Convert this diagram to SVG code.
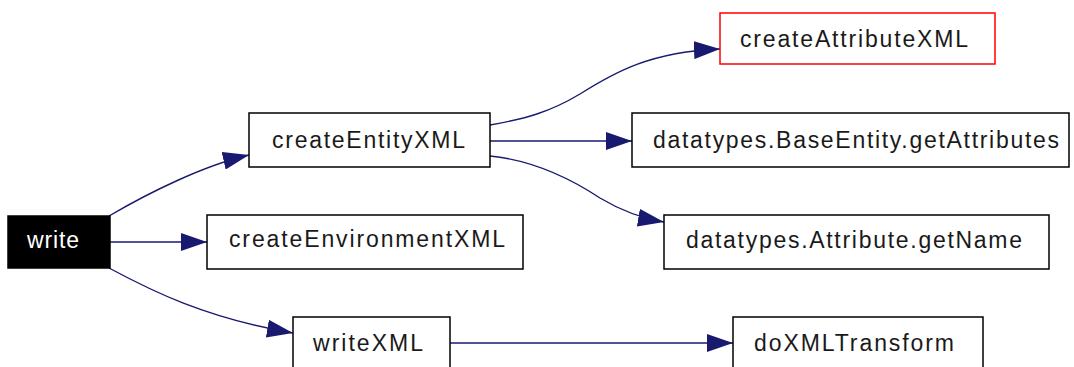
<svg xmlns="http://www.w3.org/2000/svg" width="1074" height="367" viewBox="0 0 1074 367">
  <style>
    .box { fill: #ffffff; stroke: #000000; stroke-width: 1.5; }
    .root { fill: #000000; stroke: #000000; stroke-width: 1.5; }
    .hl { fill: #ffffff; stroke: #ff0000; stroke-width: 1.5; }
    .lbl { font-family: "Liberation Sans", Arial, Helvetica, sans-serif; font-size: 23px; fill: #1a1a1a; }
    .lbl-w { font-family: "Liberation Sans", Arial, Helvetica, sans-serif; font-size: 23px; fill: #ffffff; }
    .edge { fill: none; stroke: #191970; stroke-width: 1.4; }
  </style>
  <defs>
    <marker id="arrow" viewBox="0 0 26 18" refX="26" refY="9" markerWidth="26" markerHeight="18" markerUnits="userSpaceOnUse" orient="auto">
      <path d="M0,0 L26,9 L0,18 z" fill="#191970"/>
    </marker>
  </defs>

  <g id="edges">
    <path class="edge" marker-end="url(#arrow)" d="M109,216 C150,192 205,165 249,155"/>
    <path class="edge" marker-end="url(#arrow)" d="M110,242 L207,242"/>
    <path class="edge" marker-end="url(#arrow)" d="M109,268 C150,290 205,318 293,333"/>
    <path class="edge" marker-end="url(#arrow)" d="M490,125 C525,119 550,112 580,94 C615,72 650,52 720,49"/>
    <path class="edge" marker-end="url(#arrow)" d="M490,141 L632,141"/>
    <path class="edge" marker-end="url(#arrow)" d="M490,156 C530,160 565,175 600,198 C620,210 640,218 664,222"/>
    <path class="edge" marker-end="url(#arrow)" d="M450,343 L733,343"/>
  </g>

  <g id="node-write">
    <rect class="root" x="8" y="216" width="102" height="52"/>
    <text class="lbl-w" x="27" y="248" textLength="52" lengthAdjust="spacing">write</text>
  </g>
  <g id="node-createEntityXML">
    <rect class="box" x="249" y="113" width="241" height="54"/>
    <text class="lbl" x="272" y="148" textLength="193" lengthAdjust="spacing">createEntityXML</text>
  </g>
  <g id="node-createEnvironmentXML">
    <rect class="box" x="207" y="215" width="316" height="54"/>
    <text class="lbl" x="229" y="247" textLength="276" lengthAdjust="spacing">createEnvironmentXML</text>
  </g>
  <g id="node-writeXML">
    <rect class="box" x="293" y="317" width="157" height="56"/>
    <text class="lbl" x="313" y="351" textLength="110" lengthAdjust="spacing">writeXML</text>
  </g>
  <g id="node-createAttributeXML">
    <rect class="hl" x="720" y="13" width="275" height="51"/>
    <text class="lbl" x="740" y="47" textLength="228" lengthAdjust="spacing">createAttributeXML</text>
  </g>
  <g id="node-getAttributes">
    <rect class="box" x="632" y="113" width="437" height="54"/>
    <text class="lbl" x="653" y="148" textLength="406" lengthAdjust="spacing">datatypes.BaseEntity.getAttributes</text>
  </g>
  <g id="node-getName">
    <rect class="box" x="664" y="215" width="385" height="54"/>
    <text class="lbl" x="686" y="248" textLength="336" lengthAdjust="spacing">datatypes.Attribute.getName</text>
  </g>
  <g id="node-doXMLTransform">
    <rect class="box" x="733" y="317" width="250" height="56"/>
    <text class="lbl" x="754" y="351" textLength="200" lengthAdjust="spacing">doXMLTransform</text>
  </g>
</svg>
